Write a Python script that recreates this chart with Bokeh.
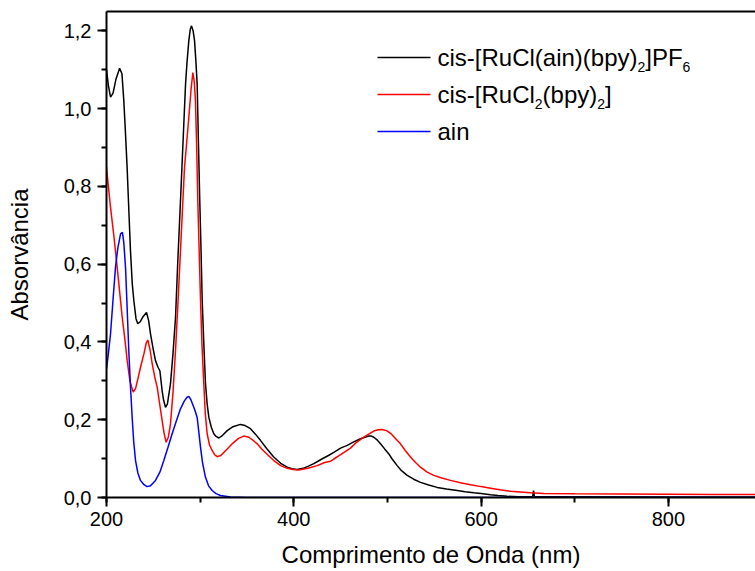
from bokeh.plotting import figure
from bokeh.models import (Range1d, SingleIntervalTicker, FixedTicker, CustomJSTickFormatter, LinearAxis,
                          Label, BoxAnnotation)
from bokeh.embed import file_html
from bokeh.resources import INLINE

# ---- data ----
black_x = [200, 202, 204.3, 207, 210, 214, 216.5, 218.5, 220, 222, 224, 225.6, 227.5, 229.2, 231.5, 233.4,
           236, 239, 242.7, 245, 247, 250, 252.3, 255, 257, 259.4, 261, 263, 265, 268.3, 271, 273.7, 276,
           279, 282, 284.4, 286, 287.9, 289.5, 290.8, 292.5, 294, 295.5, 296.8, 298, 299.6, 301, 302.2,
           304, 305.7, 307.5, 309.3, 312, 314.6, 317, 320, 324, 328.9, 335, 343, 348, 353.8, 359, 364.4,
           371, 378.6, 386, 393, 398, 403.6, 410, 415, 421.4, 430, 437, 442.7, 450, 457, 464, 471.2, 476,
           480.1, 483, 485.4, 489, 492.6, 497, 501.5, 505, 510.4, 515, 521.1, 528, 535.3, 544, 553.1, 563,
           574.5, 583, 592.2, 600, 610, 618, 627.9, 640, 655, 656, 657, 700, 800, 900]
black_y = [1.10, 1.06, 1.03, 1.04, 1.075, 1.104, 1.09, 1.02, 0.95, 0.85, 0.73, 0.635, 0.55, 0.506, 0.46, 0.447,
           0.452, 0.465, 0.476, 0.455, 0.421, 0.38, 0.352, 0.335, 0.326, 0.275, 0.25, 0.232, 0.24, 0.292, 0.37,
           0.463, 0.6, 0.763, 0.93, 1.063, 1.12, 1.175, 1.205, 1.213, 1.2, 1.175, 1.12, 1.064, 0.93, 0.763, 0.63,
           0.506, 0.39, 0.293, 0.24, 0.206, 0.18, 0.164, 0.157, 0.153, 0.16, 0.172, 0.182, 0.188, 0.185, 0.177,
           0.163, 0.147, 0.126, 0.104, 0.088, 0.078, 0.074, 0.072, 0.075, 0.080, 0.087, 0.099, 0.108, 0.116,
           0.127, 0.134, 0.143, 0.151, 0.155, 0.158, 0.158, 0.155, 0.148, 0.138, 0.125, 0.112, 0.099, 0.082,
           0.069, 0.057, 0.047, 0.039, 0.032, 0.026, 0.022, 0.018, 0.015, 0.012, 0.010, 0.007, 0.005, 0.003,
           0.002, 0.002, 0.018, 0.002, 0.002, 0.001, 0.001]

red_x = [200, 202, 204.3, 208, 211.4, 214, 216.8, 219.5, 222.1, 225, 228.5, 231, 233.5, 236.3, 240, 242.5,
         244.1, 246.5, 248.8, 251.5, 254.1, 256.5, 259.4, 261.5, 263.7, 266, 268.3, 271, 273.7, 276.5, 279,
         281.5, 283.3, 285.5, 287.9, 290.3, 292.2, 293.7, 295, 296.3, 297.5, 299, 300.4, 302, 303.9, 305.5,
         307.5, 310, 312.8, 315.5, 318.2, 322, 328.9, 335, 341, 346.6, 352, 356, 360.9, 366, 372, 378.6, 386,
         393, 399, 405.3, 415, 425, 433, 439.2, 442.7, 450, 460.5, 467, 474.7, 480, 485.4, 490, 494.4, 499,
         503.3, 508, 513.9, 519, 524.6, 530, 535.3, 542, 549.5, 558, 567.3, 578, 588.7, 600, 610, 620, 631.4,
         642, 652.8, 667, 700, 750, 800, 850, 900]
red_y = [0.85, 0.80, 0.746, 0.67, 0.592, 0.53, 0.463, 0.41, 0.352, 0.30, 0.271, 0.28, 0.305, 0.335, 0.37, 0.398,
         0.405, 0.38, 0.344, 0.31, 0.284, 0.245, 0.198, 0.165, 0.142, 0.155, 0.189, 0.27, 0.378, 0.51, 0.635,
         0.76, 0.849, 0.91, 0.978, 1.05, 1.093, 1.07, 1.02, 0.9, 0.763, 0.63, 0.506, 0.39, 0.292, 0.215,
         0.164, 0.135, 0.121, 0.11, 0.105, 0.108, 0.125, 0.14, 0.152, 0.158, 0.155, 0.148, 0.138, 0.124, 0.11,
         0.095, 0.082, 0.075, 0.072, 0.071, 0.075, 0.082, 0.09, 0.093, 0.099, 0.11, 0.127, 0.142, 0.155, 0.163,
         0.171, 0.174, 0.175, 0.172, 0.165, 0.153, 0.138, 0.121, 0.104, 0.09, 0.078, 0.066, 0.057, 0.05, 0.044,
         0.038, 0.033, 0.028, 0.024, 0.020, 0.016, 0.014, 0.012, 0.010, 0.0095, 0.009, 0.0085, 0.008, 0.008]

blue_x = [200, 202, 204.3, 207, 209.6, 212, 215, 217, 218.5, 220.3, 222, 223.8, 225.5, 227.4, 229, 231, 233.5,
          236.3, 240, 243.4, 247, 252.3, 257, 261.2, 265.5, 270.1, 275, 279, 283, 286, 287.9, 290, 293.2, 295,
          296.8, 298.5, 300.4, 302.5, 305.7, 309, 312.8, 317, 321.7, 332.4, 350, 900]
blue_y = [0.331, 0.37, 0.421, 0.51, 0.592, 0.64, 0.678, 0.682, 0.655, 0.592, 0.49, 0.378, 0.29, 0.206, 0.145,
          0.095, 0.063, 0.044, 0.033, 0.028, 0.030, 0.044, 0.065, 0.095, 0.128, 0.164, 0.2, 0.228, 0.248, 0.258,
          0.26, 0.252, 0.232, 0.22, 0.206, 0.17, 0.129, 0.09, 0.052, 0.03, 0.018, 0.01, 0.005, 0.001, 0.0, 0.0]

series_colors = ["#000000", "#ff0000", "#0000ff"]
# legend labels as (text, subscript?) pieces
legend_labels = [
    [("cis-[RuCl(ain)(bpy)", False), ("2", True), ("]PF", False), ("6", True)],
    [("cis-[RuCl", False), ("2", True), ("(bpy)", False), ("2", True), ("]", False)],
    [("ain", False)],
]
x_title = "Comprimento de Onda (nm)"
y_title = "Absorvância"

FONT = "Liberation Sans"
W, H = 755, 571
L, T, B = 106, 11, 74

p = figure(width=W, height=H, output_backend="svg", toolbar_location=None,
           x_range=Range1d(200, 893), y_range=Range1d(0, 1.25),
           min_border_left=L, min_border_right=0, min_border_top=T, min_border_bottom=B)
p.grid.visible = False
p.outline_line_color = None
p.background_fill_color = "white"
p.border_fill_color = "white"

for xs, ys, c in zip([black_x, red_x, blue_x], [black_y, red_y, blue_y], series_colors):
    p.line(xs, ys, line_color=c, line_width=1.5)

xa, ya = p.xaxis[0], p.yaxis[0]
xa.ticker = SingleIntervalTicker(interval=200, num_minor_ticks=2)
ya.ticker = SingleIntervalTicker(interval=0.2, num_minor_ticks=2)
ya.formatter = CustomJSTickFormatter(code="return tick.toFixed(1).replace('.', ',');")
for ax in (xa, ya):
    ax.axis_line_width = 2
    ax.major_tick_line_width = 2
    ax.minor_tick_line_width = 2
    ax.major_tick_in = 0
    ax.major_tick_out = 9
    ax.minor_tick_in = 0
    ax.minor_tick_out = 5
    ax.major_label_text_font = FONT
    ax.major_label_text_font_size = "20px"
    ax.major_label_text_color = "black"
    ax.axis_label_text_font = FONT
    ax.axis_label_text_font_size = "24px"
    ax.axis_label_text_font_style = "normal"
    ax.axis_label_text_color = "black"
xa.axis_label = x_title
ya.axis_label = y_title
xa.major_label_standoff = 5
xa.axis_label_standoff = 12
ya.major_label_standoff = 6
ya.axis_label_standoff = 28

top = LinearAxis(ticker=FixedTicker(ticks=[]), major_tick_out=0, major_tick_in=0,
                 minor_tick_out=0, minor_tick_in=0, axis_line_width=2)
p.add_layout(top, "above")

# ---- legend drawn by hand (subscripts) ----
AW = {'c': 500, 'i': 222, 's': 500, '-': 333, '[': 278, 'R': 722, 'u': 556, 'C': 722, 'l': 222, '(': 333,
      'a': 556, 'n': 556, ')': 333, 'b': 556, 'p': 556, 'y': 500, ']': 278, 'P': 667, 'F': 611, '2': 556,
      '6': 556}
FS = 24.0
SUB = 14.0
rows_cy = [57, 94, 131]          # canvas y of row centers
line_x0, line_x1, text_x = 377, 430, 437
for pieces, c, cy in zip(legend_labels, series_colors, rows_cy):
    fy = (H - B) - cy  # frame-relative y (upwards)
    p.add_layout(BoxAnnotation(left=line_x0 - L, right=line_x1 - L, bottom=fy - 0.75, top=fy + 0.75,
                               left_units="screen", right_units="screen", bottom_units="screen",
                               top_units="screen", fill_color=c, fill_alpha=1.0, line_color=None))
    x = text_x - L
    for txt, sub in pieces:
        size = SUB if sub else FS
        yy = fy - 0.35 * FS - 0.26 * FS + 0.35 * SUB if sub else fy
        p.add_layout(Label(x=x, y=yy, x_units="screen", y_units="screen", text=txt,
                           text_font=FONT, text_font_size=f"{size}px", text_color="black",
                           text_baseline="middle", text_align="left"))
        x += sum(AW[ch] for ch in txt) / 1000.0 * size

open("out.html", "w").write(file_html(p, INLINE))
